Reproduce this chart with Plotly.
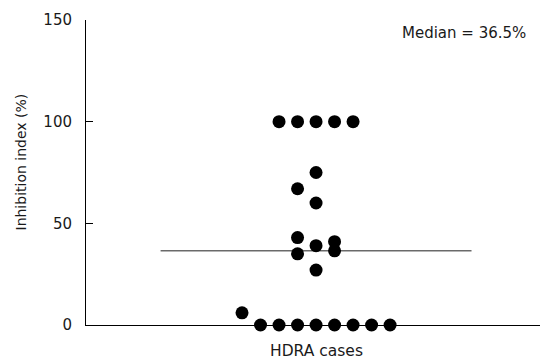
import plotly.graph_objects as go

# Inhibition index values (%) and their horizontal swarm offsets
values = [100, 100, 100, 100, 100,
          75, 67, 60,
          43, 41, 39, 36.5, 35, 27,
          6,
          0, 0, 0, 0, 0, 0, 0, 0]
offsets = [-2, -1, 0, 1, 2,
           0, -1, 0,
           -1, 1, 0, 1, -1, 0,
           -4,
           -3, -2, -1, 0, 1, 2, 3, 4]
median_value = 36.5
median_span = [-8.4, 8.4]
y_ticks = [0, 50, 100, 150]
x_title = "HDRA cases"
y_title = "Inhibition index (%)"
median_label = "Median = 36.5%"

FONT = "DejaVu Sans, Verdana, sans-serif"

fig = go.Figure()
fig.add_trace(go.Scatter(
    x=median_span, y=[median_value, median_value], mode="lines",
    line=dict(color="#6a6a6a", width=1.5), hoverinfo="skip", showlegend=False))
fig.add_trace(go.Scatter(
    x=offsets, y=values, mode="markers",
    marker=dict(color="black", size=13, line=dict(width=0)),
    showlegend=False, cliponaxis=False))

fig.update_layout(
    width=540, height=362,
    margin=dict(l=86, r=0, t=20, b=37),
    paper_bgcolor="white", plot_bgcolor="white",
    font=dict(family=FONT, size=15, color="#1a1a1a"),
    xaxis=dict(range=[-12.43, 12.1], showgrid=False, zeroline=False,
               showticklabels=False, ticks="", showline=True,
               linecolor="black", linewidth=1),
    yaxis=dict(range=[0, 150], tickvals=y_ticks, showgrid=False,
               zeroline=False, showline=True, linecolor="black", linewidth=1,
               ticks="inside", ticklen=7, tickcolor="black", tickwidth=1,
               ticklabelstandoff=10),
    annotations=[
        dict(text=median_label, xref="paper", yref="paper", x=1, y=1,
             xanchor="right", yanchor="middle", showarrow=False,
             xshift=-12, yshift=-13, font=dict(size=15)),
        dict(text=x_title, xref="x", yref="paper", x=0, y=0,
             xanchor="center", yanchor="middle", showarrow=False,
             yshift=-26, font=dict(size=15.5)),
        dict(text=y_title, xref="paper", yref="paper", x=0, y=0.5,
             xanchor="center", yanchor="middle", textangle=-90,
             showarrow=False, xshift=-66, yshift=10, font=dict(size=14)),
    ],
)

fig.write_html("out.html")
